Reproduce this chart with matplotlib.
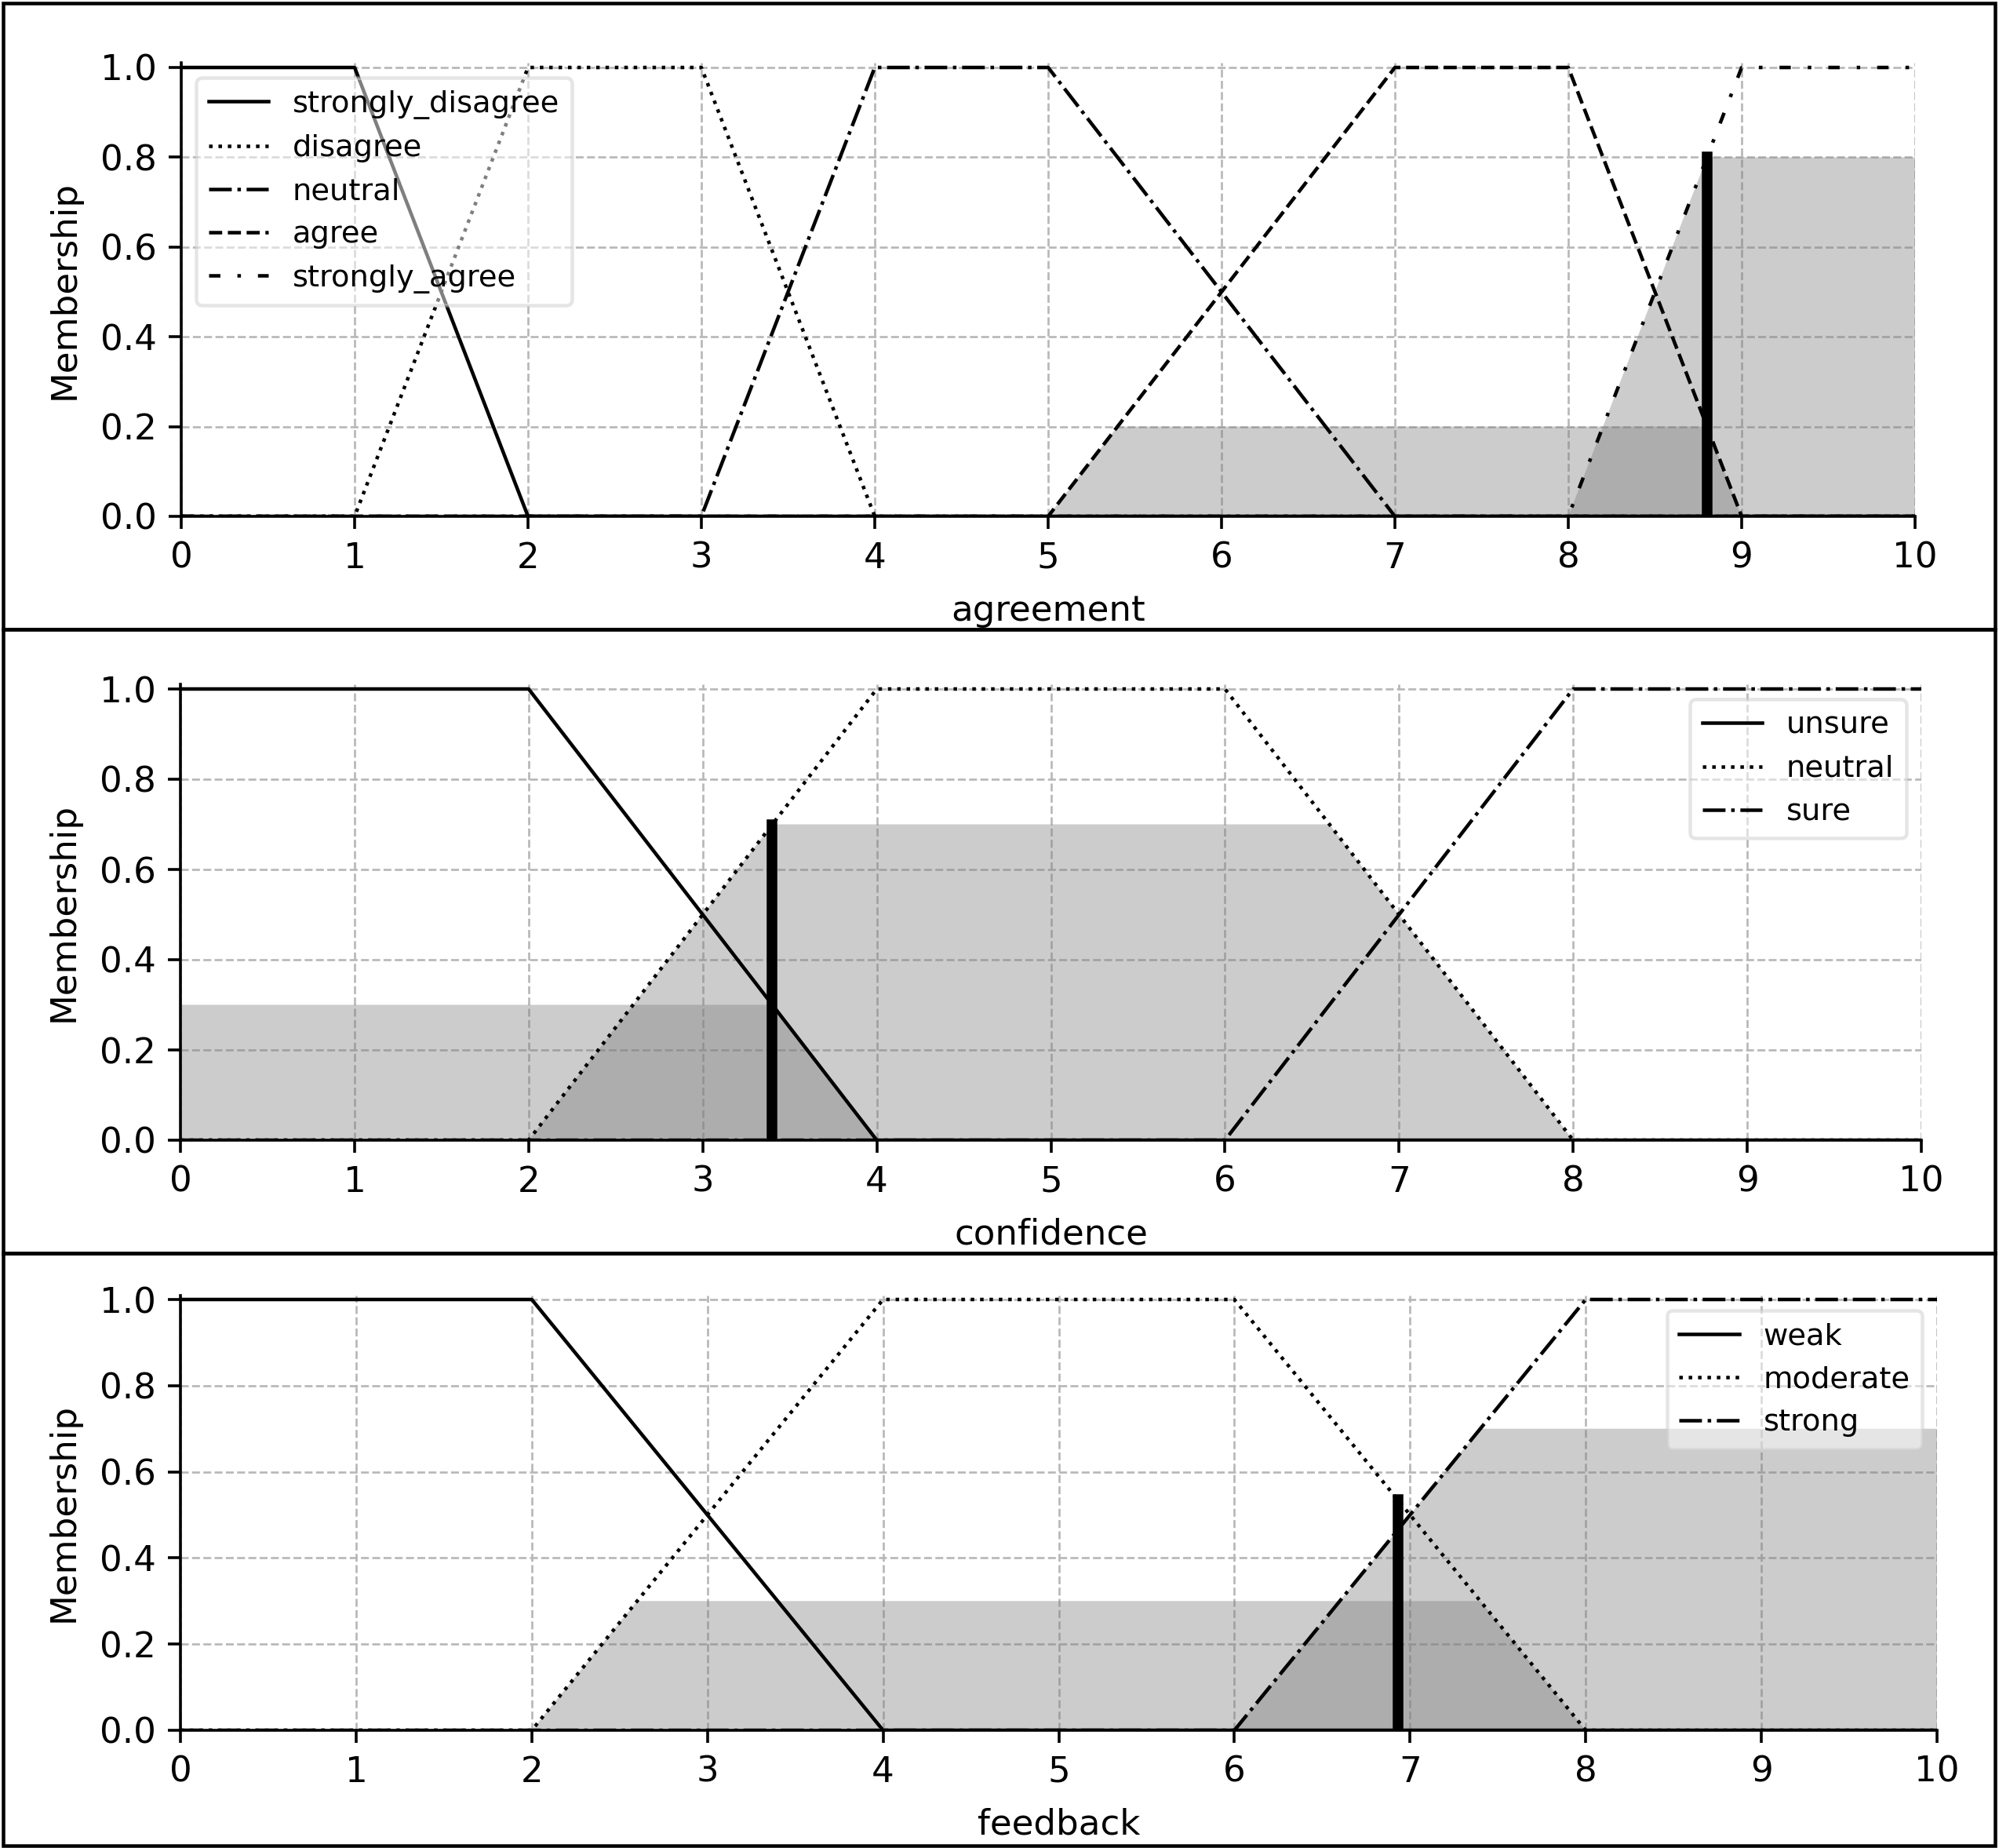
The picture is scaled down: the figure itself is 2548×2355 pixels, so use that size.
import numpy as np
import matplotlib
matplotlib.use('Agg')
import matplotlib.pyplot as plt
from matplotlib.patches import Rectangle
from matplotlib.ticker import MultipleLocator

W, H = 2548, 2355
DPI = 325

universe = [0, 10]

# ---- agreement (antecedent) ----
agreement_terms = ['strongly_disagree', 'disagree', 'neutral', 'agree', 'strongly_agree']
agreement_params = [[0, 0, 1, 2], [1, 2, 3, 4], [3, 4, 5, 7], [5, 7, 8, 9], [8, 9, 10, 10]]
agreement_levels = [0.0, 0.0, 0.0, 0.2, 0.8]
agreement_crisp = 8.8
agreement_crisp_height = 0.8

# ---- confidence (antecedent) ----
confidence_terms = ['unsure', 'neutral', 'sure']
confidence_params = [[0, 0, 2, 4], [2, 4, 6, 8], [6, 8, 10, 10]]
confidence_levels = [0.3, 0.7, 0.0]
confidence_crisp = 3.4
confidence_crisp_height = 0.7

# ---- feedback (consequent) ----
feedback_terms = ['weak', 'moderate', 'strong']
feedback_params = [[0, 0, 2, 4], [2, 4, 6, 8], [6, 8, 10, 10]]
feedback_levels = [0.0, 0.3, 0.7]
feedback_crisp = 6.93
feedback_crisp_height = 0.535

styles5 = ['-', ':', '-.', '--', (0, (3.2, 4.8, 1, 4.8))]
styles3 = ['-', ':', '-.']


def trap_vertices(p, level=1.0):
    a, b, c, d = p
    u0, u1 = universe
    xs, ys = [], []
    if a > u0:
        xs += [u0, a]
        ys += [0, 0]
    xs += [a + (b - a) * level, d - (d - c) * level]
    ys += [level, level]
    if d < u1:
        xs += [d, u1]
        ys += [0, 0]
    return xs, ys


fig = plt.figure(figsize=(W / DPI, H / DPI), dpi=DPI)


def axes_box(left, right, y1, y0):
    per = y0 - y1
    top = y1 - 0.01 * per
    return [left / W, 1 - y0 / H, (right - left) / W, (y0 - top) / H]


def panel(box, name, terms, params, levels, crisp, height, styles, loc):
    ax = fig.add_axes(box)
    for p, lv in zip(params, levels):
        if lv > 0:
            xs, ys = trap_vertices(p, lv)
            ax.fill_between(xs, 0, ys, facecolor='0.5', alpha=0.4, lw=0)
    for t, p, s in zip(terms, params, styles):
        xs, ys = trap_vertices(p)
        ax.plot(xs, ys, color='k', ls=s, lw=1.0, label=t)
    ax.plot([crisp, crisp], [0, height], color='k', lw=3, solid_capstyle='projecting')
    ax.set_xlim(universe)
    ax.set_ylim(0, 1.01)
    ax.xaxis.set_major_locator(MultipleLocator(1))
    ax.yaxis.set_major_locator(MultipleLocator(0.2))
    ax.grid(True, ls='--', color='0.72', lw=0.6)
    ax.set_axisbelow(True)
    ax.spines['top'].set_visible(False)
    ax.spines['right'].set_visible(False)
    ax.tick_params(direction='out')
    ax.set_xlabel(name, labelpad=5.4)
    ax.set_ylabel('Membership', labelpad=5.4)
    ax.legend(loc=loc, framealpha=0.5, fontsize=8.5)
    return ax


panel(axes_box(231, 2441, 86, 658), 'agreement', agreement_terms, agreement_params,
      agreement_levels, agreement_crisp, agreement_crisp_height, styles5, 'upper left')
panel(axes_box(230, 2449, 878, 1453), 'confidence', confidence_terms, confidence_params,
      confidence_levels, confidence_crisp, confidence_crisp_height, styles3, 'upper right')
panel(axes_box(230, 2469, 1656, 2205), 'feedback', feedback_terms, feedback_params,
      feedback_levels, feedback_crisp, feedback_crisp_height, styles3, 'upper right')

# panel borders
for (y_top, y_bot) in [(4, 802), (802, 1597), (1597, 2352)]:
    fig.add_artist(Rectangle((4 / W, 1 - y_bot / H), (2543 - 4) / W, (y_bot - y_top) / H,
                             transform=fig.transFigure, fill=False, lw=1.0, ec='k'))

fig.savefig('out.png', dpi=DPI)
